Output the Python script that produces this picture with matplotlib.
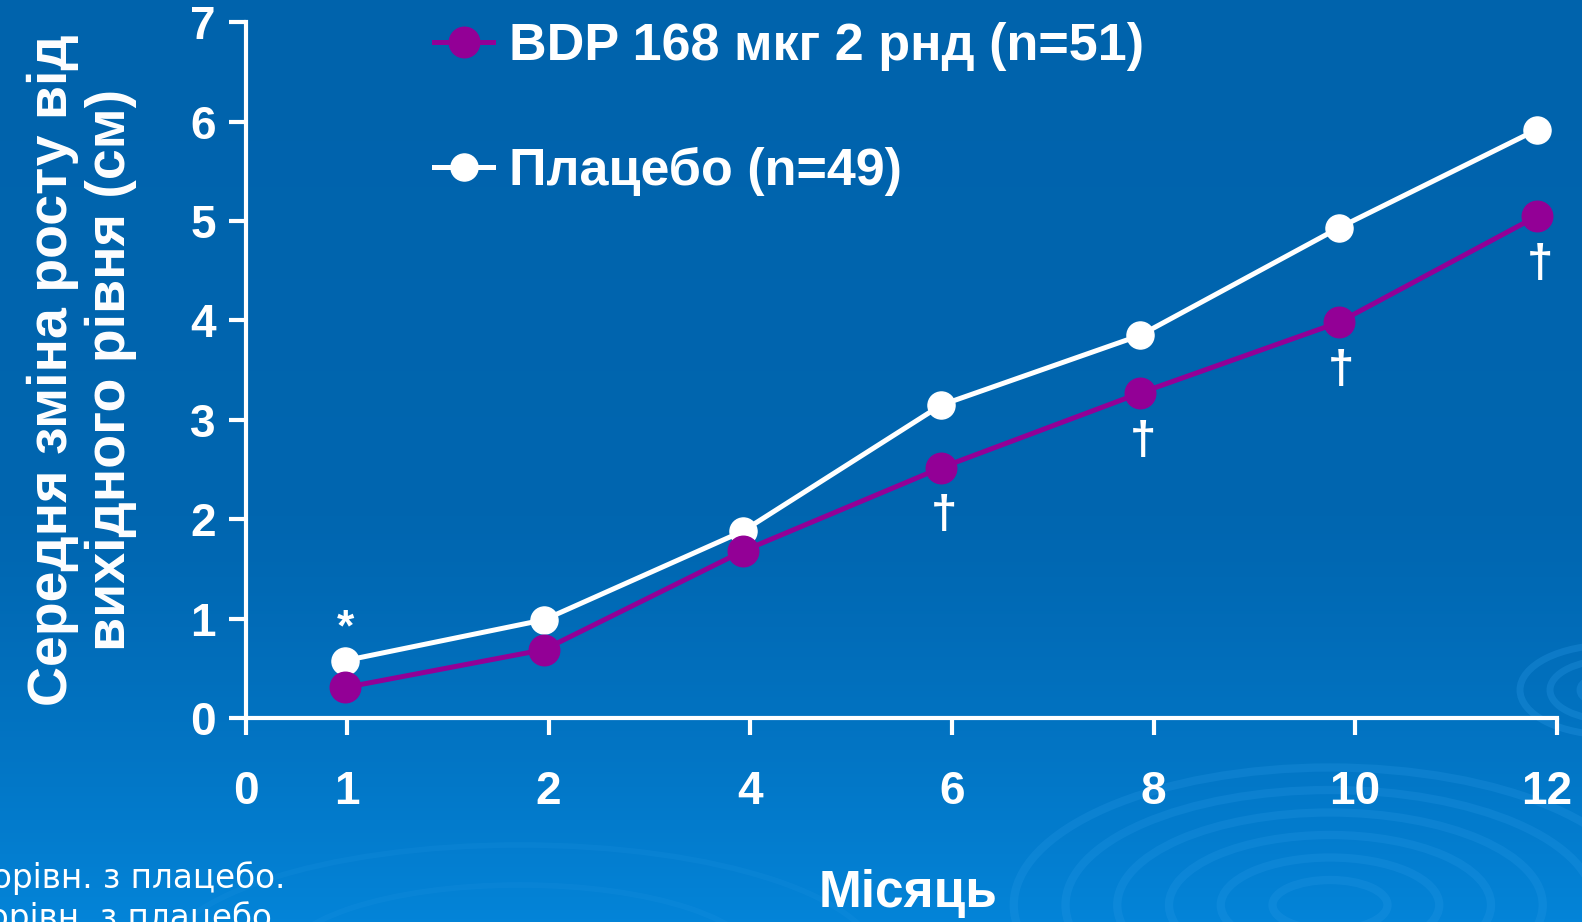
import matplotlib.pyplot as plt
from matplotlib.patches import Ellipse
from matplotlib.transforms import ScaledTranslation
import numpy as np

# data
months = ['1', '2', '4', '6', '8', '10', '12']
tick_labels = ['0', '1', '2', '4', '6', '8', '10', '12']
bdp = [0.31, 0.69, 1.68, 2.52, 3.27, 3.98, 5.05]
placebo = [0.58, 0.99, 1.88, 3.15, 3.85, 4.93, 5.92]
bdp_marks = ['', '', '', '†', '†', '†', '†']
placebo_marks = ['*', '', '', '', '', '', '']

bdp_label = 'BDP 168 мкг 2 рнд (n=51)'
placebo_label = 'Плацебо (n=49)'
ylabel = 'Середня зміна росту від\nвихідного рівня (см)'
xlabel = 'Місяць'
footnotes = ['*p<0,05 порівн. з плацебо.', '†p<0,01 порівн. з плацебо.']

purple = '#930096'
white = 'white'
plt.rcParams['font.family'] = ['Liberation Sans', 'DejaVu Sans']
plt.rcParams['font.weight'] = 'bold'

W, H = 1582, 922
fig = plt.figure(figsize=(W / 100, H / 100), dpi=100)

# background gradient with faint rings
bg = fig.add_axes([0, 0, 1, 1], zorder=0)
t = np.linspace(0, 1, 300)[:, None]
top = np.array([0, 99, 172]) / 255
bot = np.array([4, 132, 216]) / 255
g = np.clip((t - 0.55) / 0.45, 0, 1) ** 1.3
grad = top + (bot - top) * (0.15 * t + 0.85 * g)[..., None] * np.ones((1, 2, 1))
bg.imshow(grad, aspect='auto', extent=[0, W, H, 0])
for r in [50, 95, 140, 185, 230, 275]:
    bg.add_patch(Ellipse((1330, 905), 2.3 * r, r, fill=False, ec='#2a9ae6', lw=6, alpha=0.25))
for r in [30, 60, 90]:
    bg.add_patch(Ellipse((1610, 690), 2.0 * r, r, fill=False, ec='#2a9ae6', lw=5, alpha=0.3))
for r in [160, 240]:
    bg.add_patch(Ellipse((520, 965), 3 * r, r, fill=False, ec='#2a9ae6', lw=4, alpha=0.15))
bg.set_xlim(0, W)
bg.set_ylim(H, 0)
bg.axis('off')

ax = fig.add_axes([244 / 1568, 1 - 712 / 914, (1543 - 244) / 1568, (712 - 22) / 914], zorder=1)
ax.set_facecolor('none')

pos = {'0': 0, '1': 1, '2': 3, '4': 5, '6': 7, '8': 9, '10': 11, '12': 13}
x = np.array([pos[m] for m in months]) * 0.985

ax.plot(x, bdp, color=purple, lw=3.6, marker='o', ms=22, mec=purple, mfc=purple,
        label=bdp_label, zorder=3)
ax.plot(x, placebo, color=white, lw=3.6, marker='o', ms=19.5, mec=white, mfc=white,
        label=placebo_label, zorder=2)

for xi, yi, m in zip(x, bdp, bdp_marks):
    if m:
        ax.annotate(m, (xi, yi), xytext=(2, -35), textcoords='offset points',
                    ha='center', va='center', color=white, fontsize=34)
for xi, yi, m in zip(x, placebo, placebo_marks):
    if m:
        ax.annotate(m, (xi, yi), xytext=(0, 23), textcoords='offset points',
                    ha='center', va='center', color=white, fontsize=32)

ax.set_xlim(0, 13)
ax.set_ylim(0, 7)
ax.set_xticks([pos[k] for k in tick_labels])
ax.set_xticklabels(tick_labels)
ax.set_yticks(range(8))
for s in ['top', 'right']:
    ax.spines[s].set_visible(False)
for s in ['left', 'bottom']:
    ax.spines[s].set_color(white)
    ax.spines[s].set_linewidth(3)
ax.tick_params(colors=white, width=3, length=12, labelsize=33)
ax.tick_params(axis='x', pad=25)
ax.tick_params(axis='y', pad=10)
# last month label sits a little inside the edge, as in the slide
last = ax.get_xticklabels()[-1]
last.set_transform(last.get_transform() + ScaledTranslation(-0.1, 0, fig.dpi_scale_trans))

ax.set_ylabel(ylabel, color=white, fontsize=40, fontweight='bold', labelpad=38,
              linespacing=1.15)
fig.text(900 / 1568, 1 - 886 / 914, xlabel, color=white, fontsize=37,
         ha='center', va='center')
fig.text(283 / 1568, 1 - 870 / 914, footnotes[0], color=white, fontsize=23.5,
         ha='right', va='center', fontweight='normal', family='DejaVu Sans')
fig.text(280 / 1568, 1 - 910 / 914, footnotes[1], color=white, fontsize=23.5,
         ha='right', va='center', fontweight='normal', family='DejaVu Sans')

leg = ax.legend(loc='upper left', bbox_to_anchor=(0.143, 1.0), frameon=False,
                fontsize=37.5, labelspacing=1.45, handlelength=1.15, handletextpad=0.3,
                borderpad=0, borderaxespad=0)
for txt in leg.get_texts():
    txt.set_color(white)

fig.savefig('out.png', dpi=100)
